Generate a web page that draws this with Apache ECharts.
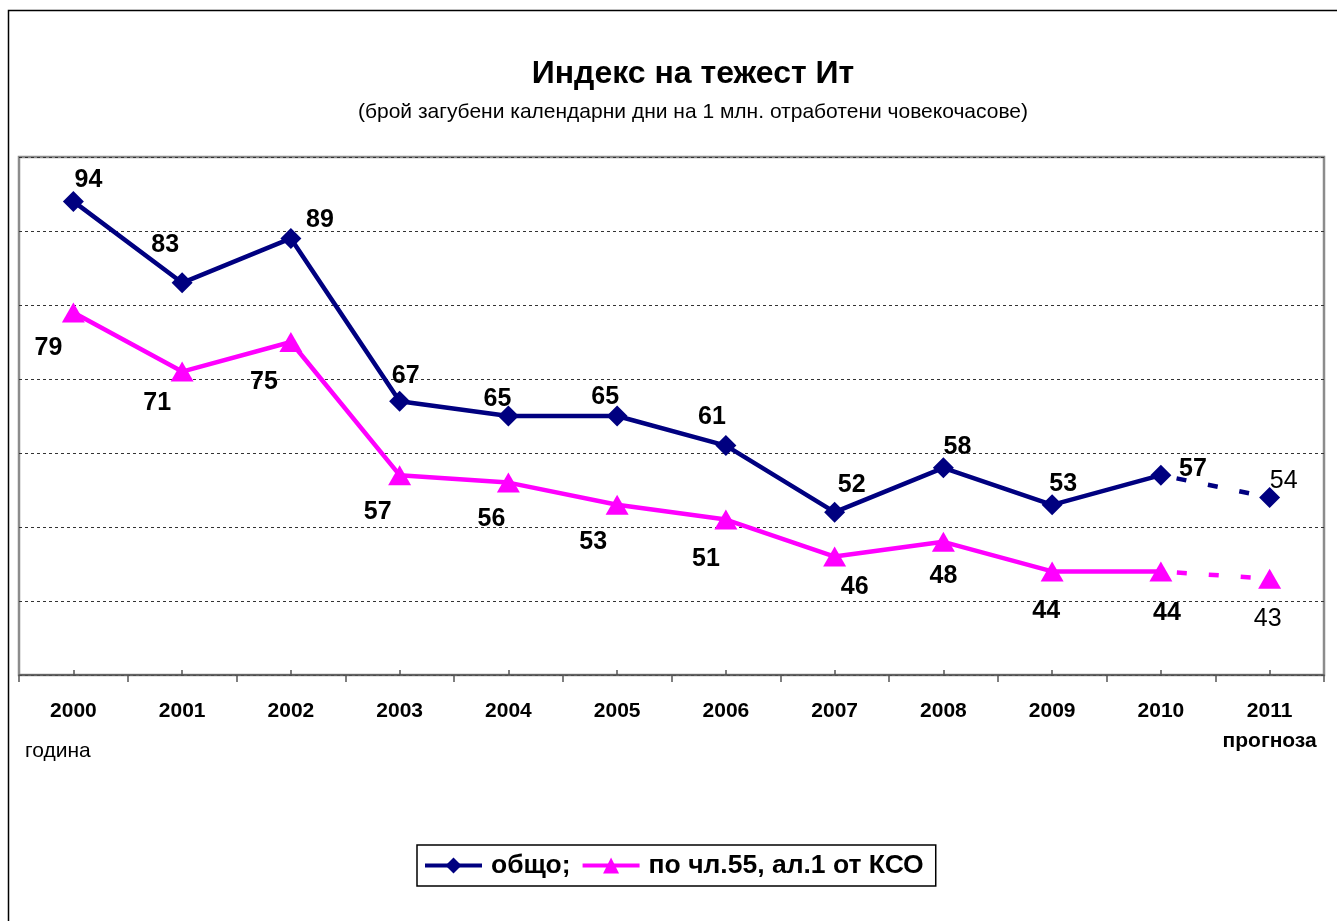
<!DOCTYPE html>
<html>
<head>
<meta charset="utf-8">
<script src="https://cdn.jsdelivr.net/npm/echarts@6/dist/echarts.min.js"></script>
<style>
  html, body { margin: 0; padding: 0; background: #fff; }
  #chart { width: 1337px; height: 921px; }
</style>
</head>
<body>
<div id="chart"></div>
<script>
// Годишни стойности на индекса на тежест
const years = ['2000', '2001', '2002', '2003', '2004', '2005', '2006', '2007', '2008', '2009', '2010', '2011'];
const totalValues = [94, 83, 89, 67, 65, 65, 61, 52, 58, 53, 57, 54];
const ksoValues = [79, 71, 75, 57, 56, 53, 51, 46, 48, 44, 44, 43];
const forecastIndex = 11; // 2011 е прогноза
const totalName = 'общо;';
const ksoName = 'по чл.55, ал.1 от КСО';

// Отмествания на надписите спрямо маркерите (в пиксели)
const totalLabelShift = [[15, -21], [-17, -38], [29, -18], [6, -25], [-11, -17], [-12, -19], [-14, -28], [17, -27], [14, -21], [11, -21], [32, -6], [14, -16]];
const ksoLabelShift = [[-25, 36], [-25, 32], [-27, 40], [-22, 37], [-17, 37], [-24, 37], [-20, 40], [20, 31], [0, 34], [-6, 40], [6, 42], [-2, 40]];

const NAVY = '#000080';
const MAGENTA = '#FF00FF';
const FONT = 'Liberation Sans, Arial, sans-serif';

// Плътна част: фактически стойности до 2010 г.
function actualPart(values, shifts) {
  return values.map((v, i) => i < forecastIndex ? {
    value: v,
    label: { offset: shifts[i] }
  } : null);
}
// Пунктирна част: от 2010 г. до прогнозата
function forecastPart(values, shifts) {
  return values.map((v, i) => {
    if (i === forecastIndex - 1) return { value: v, symbol: 'none', label: { show: false } };
    if (i === forecastIndex) return { value: v, label: { offset: shifts[i] } };
    return null;
  });
}

const boldLabel = {
  show: true, position: 'inside', color: '#000',
  fontFamily: FONT, fontWeight: 'bold', fontSize: 25
};
const plainLabel = Object.assign({}, boldLabel, { fontWeight: 'normal' });

const chart = echarts.init(document.getElementById('chart'), null, { renderer: 'canvas' });
chart.setOption({
  backgroundColor: '#fff',
  animation: false,
  title: {
    text: 'Индекс на тежест Ит',
    subtext: '(брой загубени календарни дни на 1 млн. отработени човекочасове)',
    left: 688, top: 53, textAlign: 'center', itemGap: 12,
    textStyle: { fontFamily: FONT, fontWeight: 'bold', fontSize: 32, color: '#000' },
    subtextStyle: { fontFamily: FONT, fontSize: 21, color: '#000' }
  },
  legend: {
    data: [totalName, ksoName],
    left: 417, top: 845,
    padding: [7, 12, 7, 6],
    itemWidth: 57, itemHeight: 20, itemGap: 10,
    borderColor: '#000', borderWidth: 1.5,
    backgroundColor: '#fff',
    lineStyle: { width: 4 },
    textStyle: { fontFamily: FONT, fontWeight: 'bold', fontSize: 26.5, color: '#000', padding: [0, 0, 0, 4] }
  },
  grid: {
    left: 19, right: 13, top: 157, bottom: 246,
    show: true, borderColor: '#8c8c8c', borderWidth: 2.5, backgroundColor: '#fff'
  },
  xAxis: [{
    type: 'category', data: years, boundaryGap: true,
    axisLine: { lineStyle: { color: '#555', width: 1.5 } },
    axisTick: { show: true, inside: false, length: 7, interval: 0, lineStyle: { color: '#555', width: 1.5 } },
    axisLabel: {
      interval: 0, margin: 21, color: '#000', fontFamily: FONT, fontWeight: 'bold', fontSize: 21, lineHeight: 30,
      formatter: (v, i) => i === forecastIndex ? v + '\nпрогноза' : v
    }
  }, {
    type: 'category', data: years, boundaryGap: true, position: 'bottom',
    axisLine: { show: false },
    axisTick: { show: true, inside: true, alignWithLabel: true, interval: 0, length: 5, lineStyle: { color: '#555', width: 1.5 } },
    axisLabel: { show: false }
  }],
  yAxis: {
    type: 'value', min: 30, max: 100, interval: 10,
    axisLine: { show: false }, axisTick: { show: false }, axisLabel: { show: false },
    splitLine: { lineStyle: { color: '#333', width: 1, type: [3, 3] } }
  },
  series: [{
    name: totalName, type: 'line', data: actualPart(totalValues, totalLabelShift),
    symbol: 'diamond', symbolSize: 21,
    lineStyle: { color: NAVY, width: 4.5 }, itemStyle: { color: NAVY },
    label: boldLabel, z: 3
  }, {
    name: totalName + ' прогноза', type: 'line', data: forecastPart(totalValues, totalLabelShift),
    symbol: 'diamond', symbolSize: 21,
    lineStyle: { color: NAVY, width: 4.5, type: [10, 22], dashOffset: -16 }, itemStyle: { color: NAVY },
    label: plainLabel, z: 3
  }, {
    name: ksoName, type: 'line', data: actualPart(ksoValues, ksoLabelShift),
    symbol: 'triangle', symbolSize: [23, 20],
    lineStyle: { color: MAGENTA, width: 4.5 }, itemStyle: { color: MAGENTA },
    label: boldLabel, z: 2
  }, {
    name: ksoName + ' прогноза', type: 'line', data: forecastPart(ksoValues, ksoLabelShift),
    symbol: 'triangle', symbolSize: [23, 20],
    lineStyle: { color: MAGENTA, width: 4.5, type: [10, 22], dashOffset: -16 }, itemStyle: { color: MAGENTA },
    label: plainLabel, z: 2
  }],
  graphic: [{
    type: 'rect', silent: true, z: -10,
    shape: { x: 8.5, y: 10.5, width: 1400, height: 1000 },
    style: { fill: 'none', stroke: '#000', lineWidth: 1.5 }
  }, {
    type: 'text', left: 25, top: 741,
    style: { text: 'година', fontFamily: FONT, fontSize: 21, fill: '#000' }
  }]
});
</script>
</body>
</html>
